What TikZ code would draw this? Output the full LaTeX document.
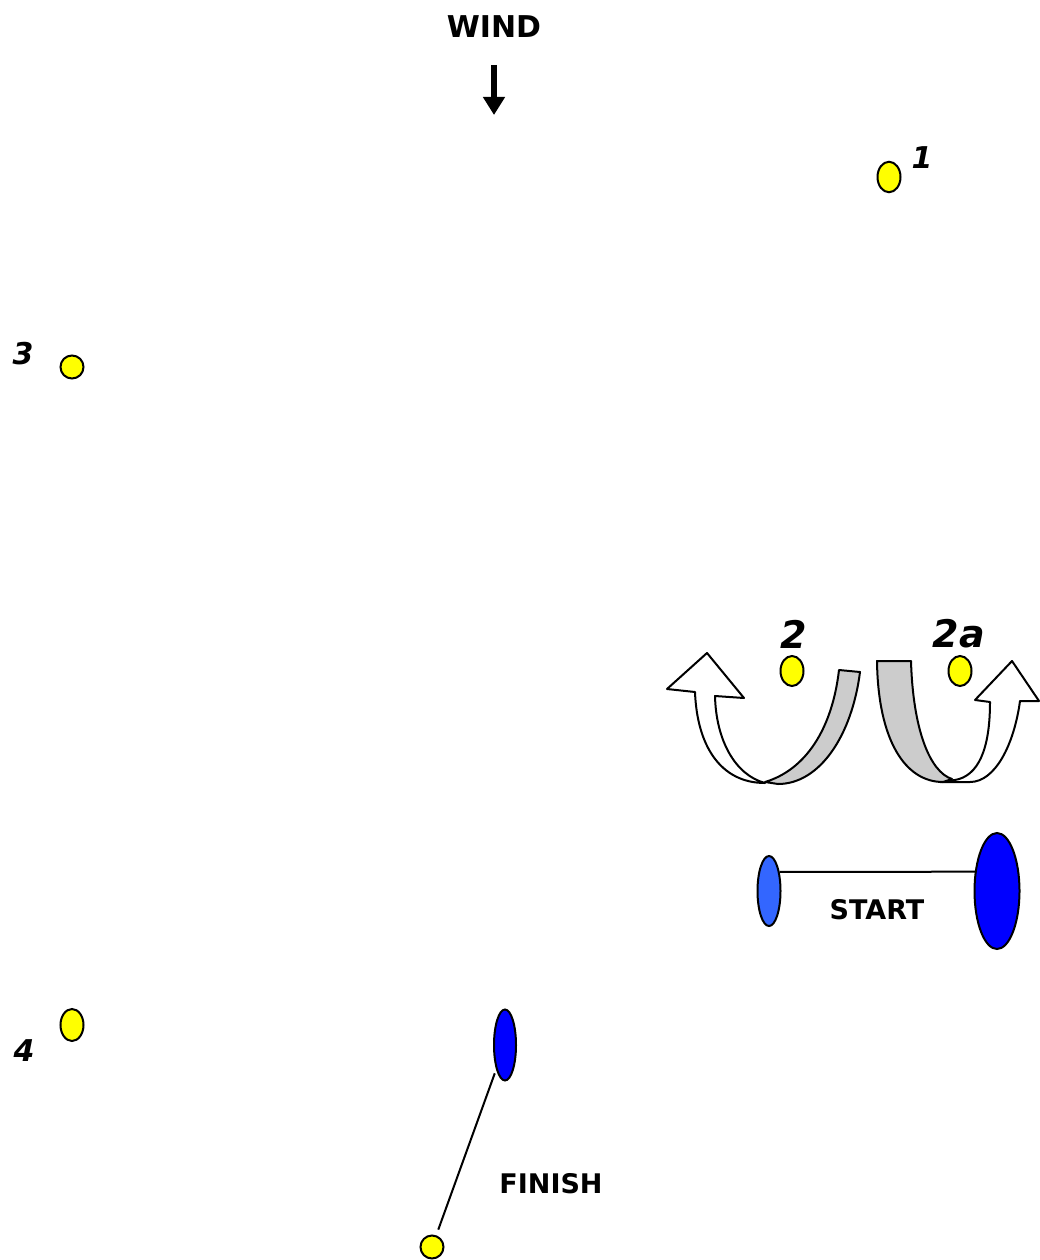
\documentclass[tikz,border=0pt]{standalone}
\usepackage{fontspec}
\setmainfont{DejaVu Sans}
\usetikzlibrary{arrows.meta,shapes.geometric}
\definecolor{cBuoy}{HTML}{FFFF00}
\definecolor{cPin}{HTML}{0000FF}
\definecolor{cBoat}{HTML}{3366FF}
\definecolor{cBack}{HTML}{CCCCCC}

\begin{document}
\begin{tikzpicture}[
    x=1pt, y=-1pt,
    buoy/.style={ellipse, draw=black, line width=2pt, fill=cBuoy, minimum width=23pt, minimum height=#1, inner sep=0pt},
    buoy/.default={30.5pt},
    pin/.style={ellipse, draw=black, line width=2pt, fill=#1, inner sep=0pt},
    pin/.default={cPin},
    title/.style={font=\fontsize{27}{27}\selectfont\bfseries, inner sep=0pt},
    num/.style={font=\fontsize{30}{30}\selectfont\bfseries\itshape, inner sep=0pt},
    bignum/.style={font=\fontsize{38}{38}\selectfont\bfseries\itshape, inner sep=0pt},
    windarr/.style={-{Triangle[width=21pt,length=18pt]}, line width=5.5pt},
    line/.style={line width=2pt},
    turn/.style={draw=black, line width=2pt, line join=round},
]
\useasboundingbox (0,0) rectangle (1040,1260);

% Wind
\node[title, font=\fontsize{30}{30}\selectfont\bfseries] (wind) at (494,27) {WIND};
\coordinate (windtop) at (494,65);
\coordinate (windtip) at (494,115);
\draw[windarr] (windtop) -- (windtip);

% Marks
\node[buoy] (b1) at (889,177) {};
\node[num] (l1) at (922,158) {1};
\node[buoy=23pt] (b3) at (72,367) {};
\node[num] (l3) at (23,354) {3};
\node[buoy=32pt] (b4) at (72,1025) {};
\node[num] (l4) at (24,1051) {4};
\node[buoy=30pt] (b2) at (792,671) {};
\node[bignum] (l2) at (794,634) {2};
\node[buoy=30pt] (b2a) at (960,671) {};
\node[bignum] (l2a) at (959,634) {2a};

% Rounding arrows at 2
\path[turn, fill=white] (715,696) -- (744,698) -- (707,653) -- (667,689) -- (695,692)
    .. controls (697,745) and (720,783) .. (765,783)
    .. controls (735,775) and (716,740) .. (715,696) -- cycle;
\path[turn, fill=cBack] (765,782) .. controls (805,770) and (832,730) .. (839,670)
    -- (860,672) .. controls (852,735) and (820,784) .. (778,784) -- cycle;

% Rounding arrows at 2a
\path[turn, fill=white] (990,702) .. controls (990,750) and (978,776) .. (955,780)
    -- (940,782) -- (970,782) .. controls (995,782) and (1014,745) .. (1020,701)
    -- (1039,701) -- (1012,661) -- (975,700) -- cycle;
\path[turn, fill=cBack] (877,661) -- (911,661) .. controls (913,730) and (930,772) .. (952,779)
    -- (943,782) .. controls (905,782) and (878,740) .. (877,661) -- cycle;

% Start line
\node[pin=cBoat, minimum width=23pt, minimum height=70pt] (boat) at (769,891) {};
\node[pin, minimum width=45pt, minimum height=116pt] (startpin) at (997,891) {};
\draw[line] (boat.61) -- (startpin.139);
\node[title] (start) at (877,910) {START};

% Finish line
\node[pin, minimum width=22pt, minimum height=71pt] (finpin) at (505,1045) {};
\node[buoy=23pt] (finbuoy) at (432,1247) {};
\draw[line, shorten <=4pt, shorten >=6pt] (finpin) -- (finbuoy);
\node[title] (finish) at (551,1184) {FINISH};

\end{tikzpicture}
\end{document}
